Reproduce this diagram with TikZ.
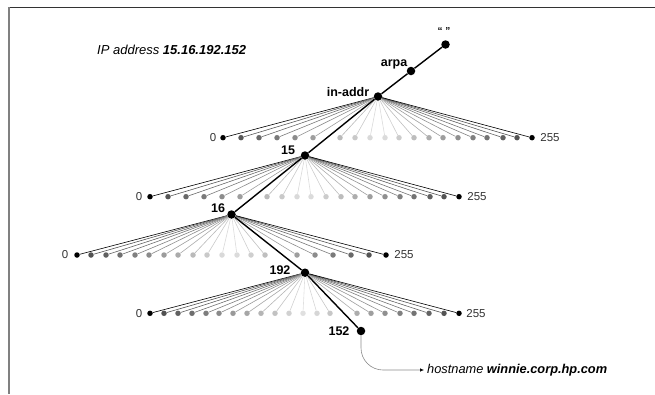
\documentclass[tikz,border=0pt]{standalone}
\usepackage{fontspec}
\setmainfont{Liberation Sans}
\usetikzlibrary{arrows.meta}
\newcommand\fanrow[6]{%
  \foreach \x [count=\i] in {#6} {
    \pgfmathtruncatemacro\p{(\i==1 || \i==#5) ? 100 : 12+62*abs(\x-#3)/155}
    \node[rdot, fill=black!\p] (#1\i) at (\x,#4) {};
    \draw[fan, draw=black!\p] (#2) -- (#1\i);
  }}
\begin{document}
\begin{tikzpicture}[x=1pt,y=-1pt,
  main/.style={circle,fill=black,inner sep=0pt,minimum size=8.5pt},
  rdot/.style={circle,inner sep=0pt,minimum size=5.5pt},
  fan/.style={line width=0.6pt},
  trunk/.style={line width=1.4pt},
  lab/.style={font=\fontsize{12.5}{14}\selectfont\bfseries, inner sep=0pt},
  num/.style={font=\fontsize{11.5}{13}\selectfont, text=black!80, inner sep=0pt},
  caption/.style={anchor=west, inner sep=0pt, font=\fontsize{13}{15}\selectfont},
  ]
\useasboundingbox (0,0) rectangle (655,394);
% frame
\draw[line width=1pt, black!80] (8,7.5) -- (655,7.5);
\draw[line width=2pt, black!50] (8.7,7) -- (8.7,394);
% main nodes
\node[main] (root) at (445.5,44.5) {};
\node[main] (arpa) at (411,71) {};
\node[main] (inaddr) at (378,96.5) {};
\node[main] (n15) at (305,155.5) {};
\node[main] (n16) at (231.5,214.5) {};
\node[main] (n192) at (305,272.7) {};
\node[main] (n152) at (361,331) {};
% fans
\fanrow{a}{inaddr}{378}{137.7}{20}{223,241,259,277,295,313,340,355,370,385,399,414,429,443,458,473,487,503,517,532}
\fanrow{b}{n15}{305}{196.7}{20}{150,168,186,204,222,240,267,282,297,311,326,341,355,370,385,400,414,430,444,459}
\fanrow{c}{n16}{231.5}{255}{20}{77,91,106,120,135,149,164,178,193,207,222,237,251,265,297,315,333,351,369,386}
\fanrow{d}{n192}{305}{313.3}{22}{150,164,178,192,206,219,233,247,261,275,289,303,317,330,357,371,385,400,414,429,444,459}
% trunk
\draw[trunk] (root) -- (arpa) -- (inaddr) -- (n15) -- (n16) -- (n192) -- (n152);
% labels
\node[font=\fontsize{10}{11}\selectfont\bfseries, inner sep=0pt] (q) at (444,31) {“ ”};
\node[lab] (larpa) at (394,64) {arpa};
\node[lab] (linaddr) at (348,92.5) {in-addr};
\node[lab] (l15) at (288,150.5) {15};
\node[lab] (l16) at (218,208) {16};
\node[lab] (l192) at (280,270) {192};
\node[lab] (l152) at (339,331) {152};
\node[num] (z1) at (213,138) {0};
\node[num] (f1) at (550,138) {255};
\node[num] (z2) at (139,197) {0};
\node[num] (f2) at (477,197) {255};
\node[num] (z3) at (65,255) {0};
\node[num] (f3) at (404,255) {255};
\node[num] (z4) at (139,313.3) {0};
\node[num] (f4) at (476,313.3) {255};
% captions
\node[caption] (ip) at (97,50) {\itshape IP address \bfseries 15.16.192.152};
\node[caption, font=\fontsize{12.8}{15}\selectfont] (host) at (427,370) {\itshape hostname \bfseries winnie.corp.hp.com};
\draw[black!45, line width=0.6pt, rounded corners=22pt,
  -{Latex[length=4pt,width=3.5pt,color=black]}] (n152) |- ([xshift=-3pt]host.west);
\end{tikzpicture}
\end{document}
